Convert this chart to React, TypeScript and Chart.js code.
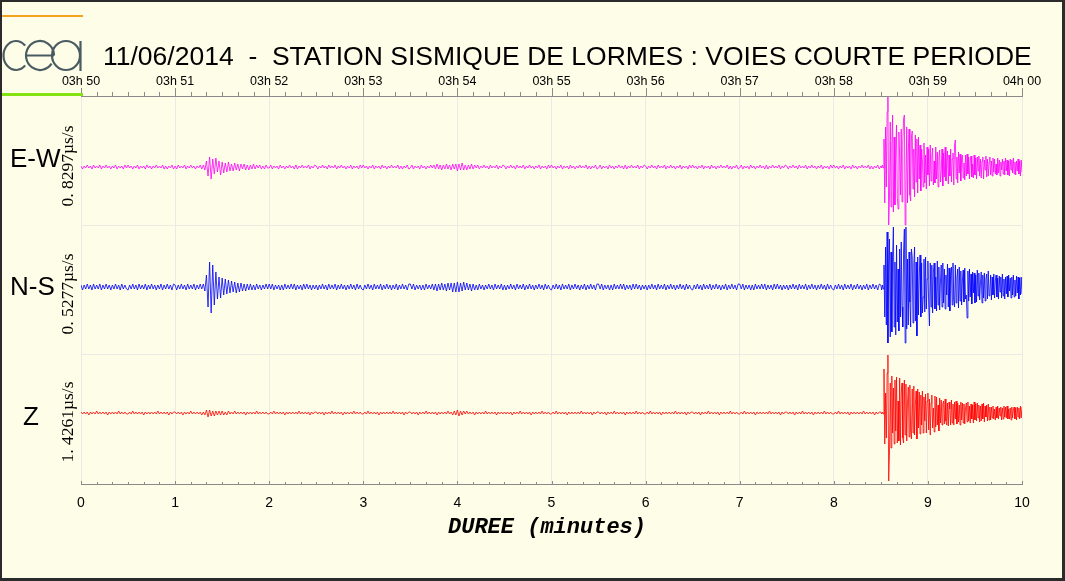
import React, { useEffect, useRef } from "react";
import { Chart, registerables } from "chart.js";

Chart.register(...registerables);

// ---------- texts ----------
const TITLE = "11/06/2014  -  STATION SISMIQUE DE LORMES : VOIES COURTE PERIODE";
const CHANNEL_NAMES = ["E-W", "N-S", "Z"];
const FULL_SCALE_LABELS = ["0. 8297µs/s", "0. 5277µs/s", "1. 4261µs/s"];
const MINUTE_LABELS = ["0", "1", "2", "3", "4", "5", "6", "7", "8", "9", "10"];
const CLOCK_LABELS = ["03h 50", "03h 51", "03h 52", "03h 53", "03h 54", "03h 55", "03h 56", "03h 57", "03h 58", "03h 59", "04h 00"];
const X_TITLE = "DUREE (minutes)";

// ---------- sampling ----------
const PRE_STEP_S = 1; // pre-event record: one sample per second from 0 s
const CODA_START_S = 510; // main event record starts at 8.5 min
const CODA_STEP_S = 0.5; // two samples per second

// ---------- trace amplitudes ----------
const EW_PRE = [
  1, -2, 1, -1, 2, -1, 1, -2, 2, -1, 1, -1, 2, -2, 1, -1, 2, -1, 1, -2, 1, -1, 2, -2, 1, -1, 1, -2, 2, -1,
  2, -1, 1, -2, 1, -1, 2, -2, 1, -1, 1, -2, 2, -1, 1, -2, 1, -1, 2, -1, 1, -1, 2, -2, 1, -2, 1, -1, 2, -2,
  1, -2, 2, -1, 1, -1, 2, -2, 1, -1, 2, -1, 1, -2, 1, -1, 2, -2, 2, -3, 6, -9, 10, -12, 8, -7, 9, -5, 6, -8,
  5, -6, 4, -5, 5, -4, 3, -4, 4, -3, 3, -4, 3, -2, 3, -3, 2, -3, 2, -2, 3, -2, 2, -1, 2, -2, 1, -2, 2, -1,
  -1, 2, -2, 1, -1, 1, -2, 2, -1, 1, -2, 1, -1, 2, -1, 1, -2, 2, -2, 1, -1, 2, -1, 1, -1, 2, -2, 1, -1, 2,
  1, -2, 1, -1, 2, -1, 1, -2, 2, -1, 1, -1, 2, -2, 1, -1, 2, -1, 1, -2, 1, -1, 2, -2, 1, -1, 1, -2, 2, -1,
  2, -1, 1, -2, 1, -1, 2, -2, 1, -1, 1, -2, 2, -1, 1, -2, 1, -1, 2, -1, 1, -1, 2, -2, 1, -2, 1, -1, 2, -2,
  -1, 2, -2, 1, -1, 1, -2, 2, -1, 1, -2, 1, -1, 2, -1, 2, -2, 3, -2, 2, -3, 2, -2, 3, -2, 2, -3, 3, -2, 3,
  -4, 3, -3, 4, -3, 2, -3, 2, -2, 3, -2, 2, -1, 2, -2, 1, -1, 2, -1, 1, -2, 2, -1, 1, -1, 2, -2, 1, -1, 2,
  1, -2, 1, -1, 2, -1, 1, -2, 2, -1, 1, -1, 2, -2, 1, -1, 2, -1, 1, -2, 1, -1, 2, -2, 1, -1, 1, -2, 2, -1,
  2, -1, 1, -2, 1, -1, 2, -2, 1, -1, 1, -2, 2, -1, 1, -2, 1, -1, 2, -1, 1, -1, 2, -2, 1, -2, 1, -1, 2, -2,
  -1, 2, -2, 1, -1, 1, -2, 2, -1, 1, -2, 1, -1, 2, -1, 1, -2, 2, -2, 1, -1, 2, -1, 1, -1, 2, -2, 1, -1, 2,
  1, -2, 1, -1, 2, -1, 1, -2, 2, -1, 1, -1, 2, -2, 1, -1, 2, -1, 1, -2, 1, -1, 2, -2, 1, -1, 1, -2, 2, -1,
  2, -1, 1, -2, 1, -1, 2, -2, 1, -1, 1, -2, 2, -1, 1, -2, 1, -1, 2, -1, 1, -1, 2, -2, 1, -2, 1, -1, 2, -2,
  -1, 2, -2, 1, -1, 1, -2, 2, -1, 1, -2, 1, -1, 2, -1, 1, -2, 2, -2, 1, -1, 2, -1, 1, -1, 2, -2, 1, -1, 2,
  1, -2, 1, -1, 2, -1, 1, -2, 2, -1, 1, -1, 2, -2, 1, -1, 2, -1, 1, -2, 1, -1, 2, -2, 1, -1, 1, -2, 2, -1,
  2, -1, 1, -2, 1, -1, 2, -2, 1, -1, 1, -2, 2, -1, 1, -2, 1, -1, 2, -1, 1, -1, 2, -2, 1, -2, 1, -1, 2, -2,
];
const EW_CODA = [
  1, -1, 2, -1, 28, -36, 40, -20, 55, 70,
  -58, -30, 45, -40, 20, 52, -45, 30, -38, 12,
  42, -30, -42, 35, 10, -28, 38, -35, 25, 48,
  52, -58, -20, 40, -36, 15, 38, -28, -34, 30,
  36, -22, 18, -30, 32, -15, 28, -26, 30, -12,
  22, -24, 18, 6, -20, 24, -16, 12, -22, 20,
  -8, 18, -19, 22, -14, 10, 19, -18, 6, -16,
  20, -12, 15, -20, 9, 17, -15, -6, 18, -19,
  14, -10, 20, -14, 4, 16, -17, 12, -9, 18,
  -15, 8, 14, -18, 22, 27, -12, 10, -16, 15,
  -6, 13, -14, 9, 12, -11, 4, -13, 12, -9,
  13, -7, 10, -12, 6, 11, -10, 3, -11, 12,
  -8, 9, -12, 10, -4, 11, -9, 8, -11, 6,
  10, -12, 7, -3, 11, -10, 8, -9, 5, 10,
  -8, 6, -9, 9, -5, 8, -7, 3, -8, 9,
  -6, 7, -9, 5, -3, 8, -7, 6, -8, 9,
  -4, 7, -8, 6, -9, 8, -3, 7, -6, 9,
  -7, 5, -8, 6, -4, 8, -7, 6, -9, 7, -5,
];

const NS_PRE = [
  2, -3, 2, -2, 3, -2, 2, -3, 3, -2, 2, -2, 3, -3, 2, -2, 3, -2, 2, -3, 2, -2, 3, -2, 2, -3, 3, -2, 2, -2,
  -3, 2, -2, 3, -2, 2, -3, 3, -2, 2, -2, 3, -3, 2, -2, 3, -2, 2, -3, 2, -2, 3, -3, 2, -2, 3, -2, 2, -3, 3,
  2, -3, 2, -2, 3, -2, 2, -3, 3, -2, 2, -2, 3, -3, 2, -2, 3, -2, 3, -4, 12, -20, 25, -26, 22, -18, 15, -12, 10, -11,
  9, -8, 8, -7, 7, -6, 6, -5, 5, -6, 4, -5, 4, -4, 3, -4, 3, -3, 3, -3, 2, -3, 3, -2, 2, -3, 2, -2, 3, -2,
  3, -2, 3, -3, 2, -2, 2, -3, 2, -3, 3, -2, 2, -2, 3, -2, 3, -3, 2, -2, 2, -3, 3, -2, 3, -2, 2, -3, 2, -2,
  2, -3, 2, -2, 3, -2, 2, -3, 3, -2, 2, -2, 3, -3, 2, -2, 3, -2, 2, -3, 2, -2, 3, -2, 2, -3, 3, -2, 2, -2,
  -3, 2, -2, 3, -2, 2, -3, 3, -2, 2, -2, 3, -3, 2, -2, 3, -2, 2, -3, 2, -2, 3, -3, 2, -2, 3, -2, 2, -3, 3,
  3, -2, 3, -3, 2, -2, 2, -3, 2, -3, 3, -2, 2, -2, 3, -3, 3, -4, 3, -3, 4, -3, 3, -4, 4, -3, 4, -5, 4, -5,
  5, -5, 4, -4, 5, -3, 4, -3, 3, -4, 3, -3, 2, -3, 3, -2, 2, -3, 2, -2, 3, -2, 2, -3, 3, -2, 2, -2, 3, -3,
  2, -3, 2, -2, 3, -2, 2, -3, 3, -2, 2, -2, 3, -3, 2, -2, 3, -2, 2, -3, 2, -2, 3, -2, 2, -3, 3, -2, 2, -2,
  -3, 2, -2, 3, -2, 2, -3, 3, -2, 2, -2, 3, -3, 2, -2, 3, -2, 2, -3, 2, -2, 3, -3, 2, -2, 3, -2, 2, -3, 3,
  3, -2, 3, -3, 2, -2, 2, -3, 2, -3, 3, -2, 2, -2, 3, -2, 3, -3, 2, -2, 2, -3, 3, -2, 3, -2, 2, -3, 2, -2,
  2, -3, 2, -2, 3, -2, 2, -3, 3, -2, 2, -2, 3, -3, 2, -2, 3, -2, 2, -3, 2, -2, 3, -2, 2, -3, 3, -2, 2, -2,
  -3, 2, -2, 3, -2, 2, -3, 3, -2, 2, -2, 3, -3, 2, -2, 3, -2, 2, -3, 2, -2, 3, -3, 2, -2, 3, -2, 2, -3, 3,
  3, -2, 3, -3, 2, -2, 2, -3, 2, -3, 3, -2, 2, -2, 3, -2, 3, -3, 2, -2, 2, -3, 3, -2, 3, -2, 2, -3, 2, -2,
  2, -3, 2, -2, 3, -2, 2, -3, 3, -2, 2, -2, 3, -3, 2, -2, 3, -2, 2, -3, 2, -2, 3, -2, 2, -3, 3, -2, 2, -2,
  -3, 2, -2, 3, -2, 2, -3, 3, -2, 2, -2, 3, -3, 2, -2, 3, -2, 2, -3, 2, -2, 3, -3, 2, -2, 3, -2, 2, -3, 3,
];
const NS_CODA = [
  2, -3, 2, -2, 22, -30, 40, -38, 55, -56,
  20, 48, -50, 35, -45, 30, 60, -40, 25, -48,
  42, -35, 18, -44, 38, -30, 45, -20, -40, 36,
  58, -56, 60, -42, 28, -38, 35, -15, -40, 38,
  30, -36, 22, 40, -34, 25, -49, 30, -28, 12,
  32, -30, 24, -26, -10, 28, -25, 30, -22, 8,
  26, -18, -39, 24, -20, 22, -26, 15, 24, -22,
  10, -24, 26, -18, 20, -23, 5, 22, -20, 24,
  -16, 18, -22, 12, -8, 23, -20, 19, -24, 14,
  20, -18, 24, -12, -20, 22, -16, 9, 18, -21,
  20, -14, 16, -18, 6, 17, -15, 19, -12, -8,
  -31, 16, -14, 18, -10, 13, -17, 15, -6, 14,
  -16, 12, -15, 17, -9, 14, -13, 4, 15, -16,
  12, -11, 14, -14, 8, 13, -12, 16, -9, -5,
  12, -13, 10, -8, 13, -11, 6, 12, -10, 9,
  -12, 11, -5, 10, -11, 13, -9, 8, -12, 10,
  -7, 11, -10, 12, -4, 9, -11, 10, -8, 12,
  -10, 7, -9, 11, -6, 10, -12, 9, -8, 10, -7,
];

const Z_PRE = [
  1, -1, 1, -1, 1, -2, 1, -1, 1, -1, 2, -1, 1, -1, 1, -1, 1, -2, 1, -1, 1, -1, 1, -1, 2, -1, 1, -1, 1, -1,
  -1, 1, -1, 2, -1, 1, -1, 1, -1, 1, -2, 1, -1, 1, -1, 1, -1, 1, -1, 2, -1, 1, -1, 1, -1, 1, -2, 1, -1, 1,
  1, -1, 1, -1, 1, -2, 1, -1, 1, -1, 2, -1, 1, -1, 1, -1, 1, -2, 1, -2, 3, -4, 3, -3, 2, -3, 2, -2, 2, -2,
  2, -2, 1, -2, 2, -1, 1, -1, 2, -1, 1, -1, 1, -1, 1, -2, 1, -1, 1, -1, 1, -1, 2, -1, 1, -1, 1, -1, 1, -1,
  -1, 1, -1, 2, -1, 1, -1, 1, -1, 1, -2, 1, -1, 1, -1, 1, -1, 1, -1, 2, -1, 1, -1, 1, -1, 1, -2, 1, -1, 1,
  1, -1, 1, -1, 1, -2, 1, -1, 1, -1, 2, -1, 1, -1, 1, -1, 1, -2, 1, -1, 1, -1, 1, -1, 2, -1, 1, -1, 1, -1,
  -1, 1, -1, 2, -1, 1, -1, 1, -1, 1, -2, 1, -1, 1, -1, 1, -1, 1, -1, 2, -1, 1, -1, 1, -1, 1, -2, 1, -1, 1,
  1, -1, 1, -1, 1, -2, 1, -1, 1, -1, 2, -1, 1, -1, 1, -1, 1, -2, 1, -1, 1, -1, 1, -1, 2, -1, 1, -2, 2, -2,
  3, -3, 2, -2, 2, -1, 2, -1, 1, -1, 1, -2, 1, -1, 1, -1, 1, -1, 2, -1, 1, -1, 1, -1, 1, -2, 1, -1, 1, -1,
  1, -1, 1, -1, 1, -2, 1, -1, 1, -1, 2, -1, 1, -1, 1, -1, 1, -2, 1, -1, 1, -1, 1, -1, 2, -1, 1, -1, 1, -1,
  -1, 1, -1, 2, -1, 1, -1, 1, -1, 1, -2, 1, -1, 1, -1, 1, -1, 1, -1, 2, -1, 1, -1, 1, -1, 1, -2, 1, -1, 1,
  1, -1, 1, -1, 1, -2, 1, -1, 1, -1, 2, -1, 1, -1, 1, -1, 1, -2, 1, -1, 1, -1, 1, -1, 2, -1, 1, -1, 1, -1,
  -1, 1, -1, 2, -1, 1, -1, 1, -1, 1, -2, 1, -1, 1, -1, 1, -1, 1, -1, 2, -1, 1, -1, 1, -1, 1, -2, 1, -1, 1,
  1, -1, 1, -1, 1, -2, 1, -1, 1, -1, 2, -1, 1, -1, 1, -1, 1, -2, 1, -1, 1, -1, 1, -1, 2, -1, 1, -1, 1, -1,
  -1, 1, -1, 2, -1, 1, -1, 1, -1, 1, -2, 1, -1, 1, -1, 1, -1, 1, -1, 2, -1, 1, -1, 1, -1, 1, -2, 1, -1, 1,
  1, -1, 1, -1, 1, -2, 1, -1, 1, -1, 2, -1, 1, -1, 1, -1, 1, -2, 1, -1, 1, -1, 1, -1, 2, -1, 1, -1, 1, -1,
  -1, 1, -1, 2, -1, 1, -1, 1, -1, 1, -2, 1, -1, 1, -1, 1, -1, 1, -1, 2, -1, 1, -1, 1, -1, 1, -2, 1, -1, 1,
];
const Z_CODA = [
  1, -1, 1, -1, 44, -31, 20, -25, 40, 58,
  -68, -40, 30, -35, 37, -20, 25, -31, 33, -18,
  36, -30, 12, -28, 35, -32, 20, 30, -25, -30,
  33, -22, 29, -28, 10, 26, -24, 28, -18, -26,
  24, -20, 27, -22, 8, 22, -26, 24, -15, 21,
  -21, 18, -12, 22, -20, 16, -8, 19, -20, 12,
  20, -17, 14, -22, 10, 18, -15, 5, -19, 17,
  -14, 16, -12, 8, -18, 15, -10, 13, -12, 9,
  12, -11, 14, -8, -12, 10, -13, 11, 4, -12,
  13, -10, 9, -12, 11, -6, 12, -11, 10, -9,
  8, -12, 11, -7, 10, -10, 9, -11, 5, 10,
  -9, 11, -8, 7, -10, 9, -6, 8, -10, 11,
  -7, 9, -8, 10, -5, 8, -9, 7, -8, 9,
  -6, 10, -9, 7, -4, 8, -8, 9, -7, 6,
  -7, 6, -5, 7, -6, 4, -7, 6, -5, 7,
  -6, 5, -3, 6, -7, 5, -6, 7, -4, 6,
  -5, 7, -6, 4, -6, 5, -7, 6, -5, 3,
  6, -6, 5, -7, 6, -4, 5, -6, 7, -5, 6,
];

// ---------- layout / style constants ----------
const W = 1065;
const H = 581;
const PLOT_HEIGHT = 388; // y scale in plot units (top = 0)
const BAND_EDGES = [0, 129, 258, 388];
const BASELINES = [71, 191, 317];
const COLORS = ["#ff00ff", "#0000ff", "#ff0000"];
const BG = "#fdfde8";
const AXIS = "#8a8a8a";
const GRID = "#ebebe6";
const SANS = '"Liberation Sans", Arial, sans-serif';

const isMajor = (v: number) => Math.abs(v - Math.round(v)) < 1e-6;
const minuteTicks = () => Array.from({ length: 61 }, (_, i) => ({ value: i / 6 }));

function buildSeries(pre: number[], coda: number[], base: number) {
  const pts = pre.map((v, i) => ({ x: (i * PRE_STEP_S) / 60, y: base - v }));
  coda.forEach((v, i) => pts.push({ x: (CODA_START_S + i * CODA_STEP_S) / 60, y: base - v }));
  return pts;
}

const decorPlugin = {
  id: "decor",
  beforeDraw(chart: any) {
    const ctx = chart.ctx;
    ctx.save();
    ctx.fillStyle = BG;
    ctx.fillRect(0, 0, chart.width, chart.height);
    ctx.restore();
  },
  afterDraw(chart: any) {
    const ctx = chart.ctx;
    const area = chart.chartArea;
    const top = chart.scales.xTop;
    const bot = chart.scales.x;
    ctx.save();

    // tick marks (major / minor)
    ctx.strokeStyle = AXIS;
    ctx.lineWidth = 1;
    ctx.beginPath();
    top.ticks.forEach((t: any) => {
      const px = Math.round(top.getPixelForValue(t.value)) + 0.5;
      ctx.moveTo(px, area.top);
      ctx.lineTo(px, area.top - (isMajor(t.value) ? 8 : 4));
    });
    bot.ticks.forEach((t: any) => {
      const px = Math.round(bot.getPixelForValue(t.value)) + 0.5;
      ctx.moveTo(px, area.bottom);
      ctx.lineTo(px, area.bottom - (isMajor(t.value) ? 3 : 2));
    });
    ctx.stroke();

    // title
    ctx.fillStyle = "#000";
    ctx.font = `26.5px ${SANS}`;
    ctx.textAlign = "left";
    ctx.textBaseline = "alphabetic";
    ctx.fillText(TITLE, 103, 65);

    // channel names
    ctx.font = `26px ${SANS}`;
    const nameX = [10, 10, 23];
    const nameY = [167, 295, 425];
    CHANNEL_NAMES.forEach((n, i) => ctx.fillText(n, nameX[i], nameY[i]));

    // full scale labels (rotated)
    const fsY = [166, 294, 422];
    ctx.font = '17.5px "Liberation Serif", "DejaVu Serif", serif';
    ctx.textAlign = "center";
    ctx.textBaseline = "middle";
    FULL_SCALE_LABELS.forEach((s, i) => {
      ctx.save();
      ctx.translate(68, fsY[i]);
      ctx.rotate(-Math.PI / 2);
      ctx.fillText(s, 0, 0);
      ctx.restore();
    });

    // x axis title
    ctx.font = 'bold italic 22px "Liberation Mono", "DejaVu Sans Mono", monospace';
    ctx.textAlign = "center";
    ctx.textBaseline = "middle";
    ctx.fillText(X_TITLE, 547, 527);

    // logo bars
    ctx.fillStyle = "#f5a21e";
    ctx.fillRect(2, 15, 81, 2);
    ctx.fillStyle = "#84e312";
    ctx.fillRect(2, 93, 81, 3);

    // logo "cea"
    ctx.strokeStyle = "#4a5c62";
    ctx.lineWidth = 2.2;
    ctx.beginPath();
    ctx.ellipse(16, 55.5, 12.5, 14.5, 0, 0.75, 2 * Math.PI - 0.75);
    ctx.stroke();
    ctx.beginPath();
    ctx.ellipse(40, 55.5, 14, 14.5, 0, 0.6, 2 * Math.PI);
    ctx.moveTo(26, 55.5);
    ctx.lineTo(54, 55.5);
    ctx.stroke();
    ctx.beginPath();
    ctx.ellipse(66, 55.5, 14, 14.5, 0, 0, 2 * Math.PI);
    ctx.moveTo(80.5, 41);
    ctx.lineTo(80.5, 71);
    ctx.stroke();

    // frame
    ctx.fillStyle = "#2b2b2b";
    ctx.fillRect(0, 0, W, 2);
    ctx.fillRect(0, 0, 2, H);
    ctx.fillRect(W - 3, 0, 3, H);
    ctx.fillRect(0, H - 3, W, 3);

    ctx.restore();
  },
};

export default function App() {
  const ref = useRef<HTMLCanvasElement>(null);

  useEffect(() => {
    const data = {
      datasets: [
        { label: CHANNEL_NAMES[0], data: buildSeries(EW_PRE, EW_CODA, BASELINES[0]), borderColor: COLORS[0] },
        { label: CHANNEL_NAMES[1], data: buildSeries(NS_PRE, NS_CODA, BASELINES[1]), borderColor: COLORS[1] },
        { label: CHANNEL_NAMES[2], data: buildSeries(Z_PRE, Z_CODA, BASELINES[2]), borderColor: COLORS[2] },
      ].map((d) => ({
        ...d,
        borderWidth: 0.8,
        pointRadius: 0,
        tension: 0,
        fill: false,
        xAxisID: "x",
        yAxisID: "y",
      })),
    };

    const chart = new Chart(ref.current as HTMLCanvasElement, {
      type: "line",
      data,
      plugins: [decorPlugin],
      options: {
        animation: false,
        responsive: false,
        devicePixelRatio: 1,
        layout: { padding: { left: 81, right: 43, top: 66, bottom: 57 } },
        plugins: { legend: { display: false }, tooltip: { enabled: false } },
        scales: {
          x: {
            type: "linear",
            position: "bottom",
            min: 0,
            max: 10,
            afterBuildTicks: (s: any) => {
              s.ticks = minuteTicks();
            },
            afterFit: (s: any) => {
              s.height = 40;
            },
            ticks: {
              autoSkip: false,
              maxRotation: 0,
              minRotation: 0,
              padding: 11,
              color: "#000",
              font: { family: SANS, size: 14 },
              callback: (v: any) => (isMajor(Number(v)) ? MINUTE_LABELS[Math.round(Number(v))] : ""),
            },
            grid: {
              drawTicks: false,
              color: (c: any) => (c.tick && isMajor(c.tick.value) ? GRID : "rgba(0,0,0,0)"),
            },
            border: { display: true, color: AXIS, width: 1 },
          },
          xTop: {
            type: "linear",
            position: "top",
            min: 0,
            max: 10,
            afterBuildTicks: (s: any) => {
              s.ticks = minuteTicks();
            },
            afterFit: (s: any) => {
              s.height = 30;
            },
            ticks: {
              autoSkip: false,
              maxRotation: 0,
              minRotation: 0,
              padding: 7,
              color: "#000",
              font: { family: SANS, size: 12.5 },
              callback: (v: any) => (isMajor(Number(v)) ? CLOCK_LABELS[Math.round(Number(v))] : ""),
            },
            grid: { drawTicks: false, drawOnChartArea: false },
            border: { display: true, color: AXIS, width: 1 },
          },
          y: {
            type: "linear",
            position: "left",
            min: 0,
            max: PLOT_HEIGHT,
            reverse: true,
            afterBuildTicks: (s: any) => {
              s.ticks = BAND_EDGES.map((v) => ({ value: v }));
            },
            afterFit: (s: any) => {
              s.width = 0;
            },
            ticks: { display: false },
            grid: { drawTicks: false, color: GRID },
            border: { display: false },
          },
        },
      } as any,
    });
    return () => chart.destroy();
  }, []);

  return (
    <div style={{ position: "absolute", left: 0, top: 0, width: W, height: H }}>
      <canvas ref={ref} width={W} height={H} style={{ display: "block", width: W, height: H }} />
    </div>
  );
}
